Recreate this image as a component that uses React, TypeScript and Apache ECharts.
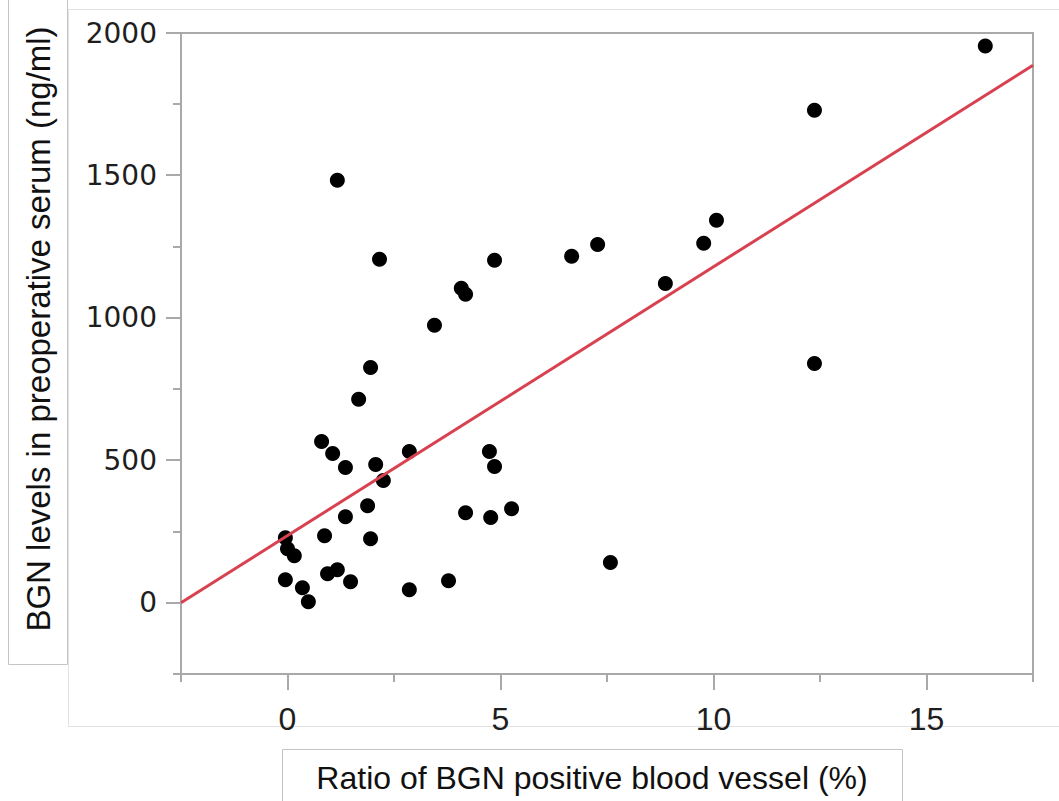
import React, { useEffect, useRef } from "react";
import * as echarts from "echarts";

const xValues = [16.38, 12.37, 12.37, 10.07, 9.77, 8.87, 7.28, 6.67, 7.58, 4.86, 4.08, 4.18, 3.45, 2.16, 1.17, 1.95, 1.67, 0.8, 1.06, 1.36, 2.07, 2.86, 2.25, 4.74, 4.86, 4.18, 4.77, 5.26, 1.88, 1.36, 1.95, 0.87, -0.05, 0.0, 0.16, -0.05, 0.35, 0.49, 0.94, 1.17, 1.48, 2.86, 3.78];
const yValues = [1954, 1729, 840, 1343, 1262, 1121, 1258, 1216, 141, 1202, 1104, 1083, 974, 1206, 1483, 826, 714, 566, 524, 475, 485, 531, 429, 531, 478, 316, 299, 330, 341, 302, 225, 235, 228, 190, 165, 81, 53, 4, 102, 116, 74, 46, 77];

const fitX = [-2.5, 17.5];
const fitY = [0, 1887];

const xMajorTicks = [0, 5, 10, 15];
const xMinorTicks = [-2.5, 2.5, 7.5, 12.5, 17.5];
const yMajorTicks = [0, 500, 1000, 1500, 2000];
const yMinorTicks = [-250, 250, 750, 1250, 1750];

const xTitle = "Ratio of BGN positive blood vessel (%)";
const yTitle = "BGN levels in preoperative serum (ng/ml)";

const AXIS_COLOR = "#a9a9a9";
const LABEL_COLOR = "#1e1e1e";
const MAJOR_X_LEN = 16;
const MAJOR_Y_LEN = 15;
const MINOR_LEN = 8;

export default function App() {
  const ref = useRef<HTMLDivElement>(null);
  useEffect(() => {
    if (!ref.current) return;
    const chart = echarts.init(ref.current, null, { renderer: "svg" });
    const xRange = { min: -2.5, max: 17.5 };
    const yRange = { min: -250, max: 2000 };
    const gridBox = { left: 181, top: 33, right: 26, bottom: 127 };

    // [value, tickLength, isMajor]
    const xTickData = [
      ...xMinorTicks.map((v) => [v, MINOR_LEN, 0]),
      ...xMajorTicks.map((v) => [v, MAJOR_X_LEN, 1]),
    ];
    // [tickLength, value, isMajor]
    const yTickData = [
      ...yMinorTicks.map((v) => [MINOR_LEN, v, 0]),
      ...yMajorTicks.map((v) => [MAJOR_Y_LEN, v, 1]),
    ];

    chart.setOption({
      animation: false,
      backgroundColor: "#ffffff",
      grid: {
        ...gridBox,
        show: true,
        borderColor: AXIS_COLOR,
        borderWidth: 2,
        backgroundColor: "transparent",
      },
      xAxis: {
        type: "value",
        ...xRange,
        position: "bottom",
        axisLine: { show: true, onZero: false, lineStyle: { color: AXIS_COLOR, width: 2 } },
        axisTick: { show: false },
        axisLabel: { show: false },
        splitLine: { show: false },
      },
      yAxis: {
        type: "value",
        ...yRange,
        position: "left",
        axisLine: { show: true, onZero: false, lineStyle: { color: AXIS_COLOR, width: 2 } },
        axisTick: { show: false },
        axisLabel: { show: false },
        splitLine: { show: false },
      },
      graphic: [
        {
          type: "rect",
          shape: { x: 68.5, y: 9.5, width: 1010, height: 717 },
          style: { fill: "none", stroke: "#e2e2e2", lineWidth: 1 },
          silent: true,
          z: -10,
        },
        {
          type: "rect",
          shape: { x: 8.5, y: -2, width: 59, height: 666.5 },
          style: { fill: "none", stroke: "#c4c4c4", lineWidth: 1 },
          silent: true,
        },
        {
          type: "rect",
          shape: { x: 282.5, y: 749.5, width: 620, height: 70 },
          style: { fill: "none", stroke: "#c4c4c4", lineWidth: 1 },
          silent: true,
        },
        {
          type: "text",
          x: 38,
          y: 329,
          rotation: Math.PI / 2,
          style: {
            text: yTitle,
            fontFamily: "Liberation Sans",
            fontSize: 33,
            fill: "#111",
            align: "center",
            verticalAlign: "middle",
          },
        },
        {
          type: "text",
          x: 592,
          y: 778,
          style: {
            text: xTitle,
            fontFamily: "Liberation Sans",
            fontSize: 32,
            fill: "#111",
            align: "center",
            verticalAlign: "middle",
          },
        },
      ],
      series: [
        {
          type: "custom",
          name: "xTicks",
          clip: false,
          silent: true,
          data: xTickData,
          dimensions: ["v", "len", "major"],
          encode: { x: 0, y: 1 },
          renderItem: (params: any, api: any) => {
            const v = api.value(0);
            const len = api.value(1);
            const major = api.value(2);
            const p = api.coord([v, yRange.min]);
            const cx = Math.round(p[0]);
            const cy = Math.round(p[1]);
            const children: any[] = [
              {
                type: "rect",
                shape: { x: cx - 1, y: cy, width: 2, height: len },
                style: { fill: AXIS_COLOR },
              },
            ];
            if (major) {
              children.push({
                type: "text",
                x: p[0],
                y: p[1] + 29,
                style: {
                  text: String(v),
                  fontFamily: "Liberation Sans",
                  fontSize: 32,
                  fill: LABEL_COLOR,
                  align: "center",
                  verticalAlign: "top",
                },
              });
            }
            return { type: "group", children };
          },
          z: 5,
        },
        {
          type: "custom",
          name: "yTicks",
          clip: false,
          silent: true,
          data: yTickData,
          dimensions: ["len", "v", "major"],
          encode: { x: 0, y: 1 },
          renderItem: (params: any, api: any) => {
            const len = api.value(0);
            const v = api.value(1);
            const major = api.value(2);
            const p = api.coord([xRange.min, v]);
            const cx = Math.round(p[0]);
            const cy = Math.round(p[1]);
            const children: any[] = [
              {
                type: "rect",
                shape: { x: cx - len, y: cy - 1, width: len, height: 2 },
                style: { fill: AXIS_COLOR },
              },
            ];
            if (major) {
              children.push({
                type: "text",
                x: p[0] - 24,
                y: p[1],
                style: {
                  text: String(v),
                  fontFamily: "DejaVu Sans",
                  fontSize: 28,
                  fill: LABEL_COLOR,
                  align: "right",
                  verticalAlign: "middle",
                },
              });
            }
            return { type: "group", children };
          },
          z: 5,
        },
        {
          type: "scatter",
          symbol: "circle",
          symbolSize: 15,
          itemStyle: { color: "#000", opacity: 1 },
          data: xValues.map((x, i) => [x, yValues[i]]),
          z: 2,
        },
        {
          type: "line",
          showSymbol: false,
          symbol: "none",
          lineStyle: { color: "#d8414f", width: 3 },
          data: fitX.map((x, i) => [x, fitY[i]]),
          z: 3,
        },
      ],
    });
    return () => chart.dispose();
  }, []);
  return (
    <div
      ref={ref}
      style={{ position: "absolute", left: 0, top: 0, width: 1059, height: 801 }}
    />
  );
}
